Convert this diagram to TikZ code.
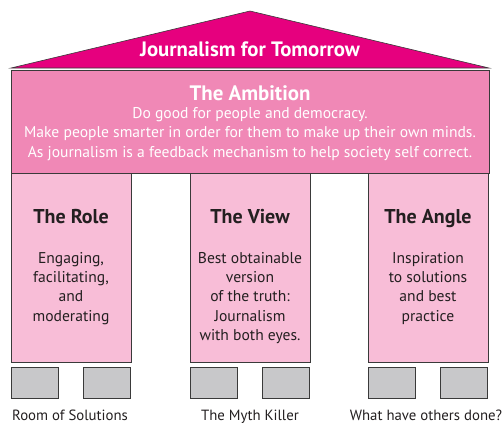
\documentclass[tikz,border=0pt]{standalone}
\usepackage{fontspec}
\setmainfont{PT Sans}
\definecolor{roofc}{HTML}{E6007E}
\definecolor{ambc}{HTML}{F088B6}
\definecolor{colc}{HTML}{F8BDD7}
\definecolor{grayc}{HTML}{C8C8CA}
\definecolor{linec}{HTML}{3A3A3A}
\definecolor{textc}{HTML}{231F20}
\begin{document}
\begin{tikzpicture}[x=1pt,y=-1pt,
  box/.style={draw=linec, line width=0.7pt, inner sep=0pt, outer sep=0pt},
  ambbox/.style={box, fill=ambc, minimum width=478pt, minimum height=103pt},
  colbox/.style={box, fill=colc, minimum width=120pt, minimum height=189pt},
  graybox/.style={box, fill=grayc, minimum width=47pt, minimum height=31pt},
  wtitle/.style={text=white, font=\fontsize{20.8}{22}\selectfont\bfseries, anchor=base, inner sep=0pt},
  wbody/.style={text=white, font=\fontsize{15.6}{19.5}\selectfont, anchor=base, align=center, inner sep=0pt},
  ctitle/.style={text=textc, font=\fontsize{20}{22}\selectfont\bfseries, anchor=base, inner sep=0pt},
  cbody/.style={text=textc, font=\fontsize{15.6}{19.4}\selectfont, anchor=base, align=center, inner sep=0pt},
  lbl/.style={text=textc, font=\fontsize{14.8}{17}\selectfont, anchor=base, inner sep=0pt}]
\useasboundingbox (0,0) rectangle (503,423);
% roof
\filldraw[fill=roofc, draw=linec, line width=0.6pt] (11,68) -- (250,11) -- (489,68) -- cycle;
\node[wtitle] (roof) at (250,56) {Journalism for Tomorrow};
% ambition
\node[ambbox] (amb) at (250,121.5) {};
\node[wtitle, font=\fontsize{20.9}{22}\selectfont\bfseries] (ambt) at (250,100) {The Ambition};
\node[wbody] (ambb) at (250,157) {Do good for people and democracy.\\Make people smarter in order for them to make up their own minds.\\As journalism is a feedback mechanism to help society self correct.};
% columns
\node[colbox] (role) at (71,267.5) {};
\node[colbox] (view) at (250,267.5) {};
\node[colbox] (angle) at (428,267.5) {};
\node[ctitle] (rolet) at (71,223) {The Role};
\node[ctitle] (viewt) at (250,223) {The View};
\node[ctitle] (anglet) at (428,223) {The Angle};
\node[cbody] (roleb) at (71,321.2) {Engaging,\\facilitating,\\and\\moderating};
\node[cbody] (viewb) at (250,340.6) {Best obtainable\\version\\of the truth:\\Journalism\\with both eyes.};
\node[cbody] (angleb) at (428,321.2) {Inspiration\\to solutions\\and best\\practice};
% gray blocks
\node[graybox] (g1) at (34.5,382.5) {};
\node[graybox] (g2) at (107,382.5) {};
\node[graybox] (g3) at (213.5,382.5) {};
\node[graybox] (g4) at (286,382.5) {};
\node[graybox] (g5) at (391.5,382.5) {};
\node[graybox] (g6) at (464,382.5) {};
% labels
\node[lbl] (l1) at (70,420) {Room of Solutions};
\node[lbl] (l2) at (250,420) {The Myth Killer};
\node[lbl] (l3) at (426,420) {What have others done?};
\end{tikzpicture}
\end{document}
